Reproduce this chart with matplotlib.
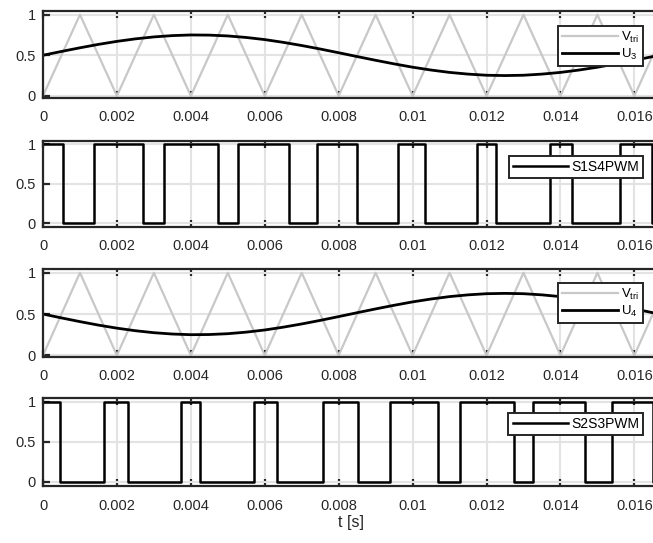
import numpy as np
import matplotlib
matplotlib.use("Agg")
import matplotlib.pyplot as plt

plt.rcParams["font.family"] = ["Liberation Sans", "DejaVu Sans"]
plt.rcParams["mathtext.fontset"] = "custom"
plt.rcParams["mathtext.rm"] = "Liberation Sans"
plt.rcParams["mathtext.it"] = "Liberation Sans"

# carrier triangle vertices
tri_t = [0, 0.001, 0.002, 0.003, 0.004, 0.005, 0.006, 0.007, 0.008,
         0.009, 0.010, 0.011, 0.012, 0.013, 0.014, 0.015, 0.016, 0.017]
tri_v = [0, 1, 0, 1, 0, 1, 0, 1, 0, 1, 0, 1, 0, 1, 0, 1, 0, 1]

# reference signals, sampled every 0.5 ms
ref_t = np.arange(0, 0.0175, 0.0005)
u3 = [0.500, 0.547, 0.592, 0.634, 0.671, 0.702, 0.726, 0.742, 0.750, 0.748,
      0.738, 0.719, 0.693, 0.659, 0.620, 0.577, 0.531, 0.484, 0.438, 0.394,
      0.353, 0.318, 0.289, 0.268, 0.254, 0.250, 0.254, 0.268, 0.289, 0.318,
      0.353, 0.394, 0.438, 0.484, 0.531]
u4 = [0.500, 0.453, 0.408, 0.366, 0.329, 0.298, 0.274, 0.258, 0.250, 0.252,
      0.262, 0.281, 0.307, 0.341, 0.380, 0.423, 0.469, 0.516, 0.562, 0.606,
      0.647, 0.682, 0.711, 0.732, 0.746, 0.750, 0.746, 0.732, 0.711, 0.682,
      0.647, 0.606, 0.562, 0.516, 0.469]

# PWM switching instants (s) and the level after each
s14_t = [0, 0.000551, 0.001376, 0.002713, 0.003264, 0.004744, 0.005272,
         0.006648, 0.007415, 0.008486, 0.009616, 0.010329, 0.011740,
         0.012251, 0.013724, 0.014306, 0.015598, 0.016483]
s14_v = [1, 0, 1, 0, 1, 0, 1, 0, 1, 0, 1, 0, 1, 0, 1, 0, 1, 0]
s23_t = [0, 0.000457, 0.001645, 0.002309, 0.003747, 0.004250, 0.005709,
         0.006329, 0.007571, 0.008517, 0.009402, 0.010694, 0.011276,
         0.012749, 0.013260, 0.014671, 0.015384, 0.016514]
s23_v = [1, 0, 1, 0, 1, 0, 1, 0, 1, 0, 1, 0, 1, 0, 1, 0, 1, 0]

xticks = [0, 0.002, 0.004, 0.006, 0.008, 0.010, 0.012, 0.014, 0.016]
xlabels = ["0", "0.002", "0.004", "0.006", "0.008", "0.01", "0.012", "0.014", "0.016"]
t_end = 1 / 60

W, H = 653, 543
fig = plt.figure(figsize=(W / 100, H / 100), dpi=100)

# (top, bottom) in pixels
rows = [(11, 97.5), (140.5, 227), (269, 357), (398, 486)]
left, right = 43, 659
spine_c = "#262626"
tri_c = "#c8c8c8"
grid_c = "#e3e3e3"


def style(ax, ylo):
    ax.set_xlim(0, t_end)
    ax.set_ylim(ylo, 1.045)
    ax.set_xticks(xticks)
    ax.set_xticklabels(xlabels)
    ax.set_yticks([0, 0.5, 1])
    ax.set_yticklabels(["0", "0.5", "1"])
    ax.tick_params(direction="in", top=True, length=5, width=1.6,
                   color=spine_c, labelcolor=spine_c, labelsize=10.5)
    ax.tick_params(axis="x", pad=9)
    ax.tick_params(axis="y", pad=5)
    ax.grid(True, color=grid_c, linewidth=1.5, linestyle="-")
    ax.set_axisbelow(True)
    for s in ax.spines.values():
        s.set_color(spine_c)
        s.set_linewidth(1.6)


def legend(ax, y_px, fontsize=9.5, hl=4.0):
    leg = ax.legend(loc="upper right", bbox_to_anchor=(643 / W, 1 - y_px / H),
                    bbox_transform=fig.transFigure, fancybox=False,
                    framealpha=1, edgecolor=spine_c, fontsize=fontsize,
                    handlelength=hl, handletextpad=0.2, borderpad=0.3,
                    labelspacing=0.15, borderaxespad=0)
    leg.get_frame().set_linewidth(1.4)
    return leg


axes = []
for top, bot in rows:
    axes.append(fig.add_axes([left / W, 1 - bot / H, (right - left) / W, (bot - top) / H]))

ax1, ax2, ax3, ax4 = axes

ax1.plot(tri_t, tri_v, color=tri_c, linewidth=1.6, label=r"V$_{\rm tri}$")
ax1.plot(ref_t, u3, color="black", linewidth=2.0, label=r"U$_{\rm 3}$")
style(ax1, -0.02)
legend(ax1, 26, hl=4.3)

ax2.step(s14_t + [t_end + 0.001], s14_v + [s14_v[-1]], where="post",
         color="black", linewidth=1.8, label="S1S4PWM")
style(ax2, -0.05)
legend(ax2, 156, fontsize=10, hl=4.0)

ax3.plot(tri_t, tri_v, color=tri_c, linewidth=1.6, label=r"V$_{\rm tri}$")
ax3.plot(ref_t, u4, color="black", linewidth=2.0, label=r"U$_{\rm 4}$")
style(ax3, -0.02)
legend(ax3, 283, hl=4.3)

ax4.step(s23_t + [t_end + 0.001], s23_v + [s23_v[-1]], where="post",
         color="black", linewidth=1.8, label="S2S3PWM")
style(ax4, -0.05)
legend(ax4, 413, fontsize=10, hl=4.0)

ax4.set_xlabel("t [s]", fontsize=11.5, color=spine_c, labelpad=2)

fig.savefig("out.png", dpi=100)
